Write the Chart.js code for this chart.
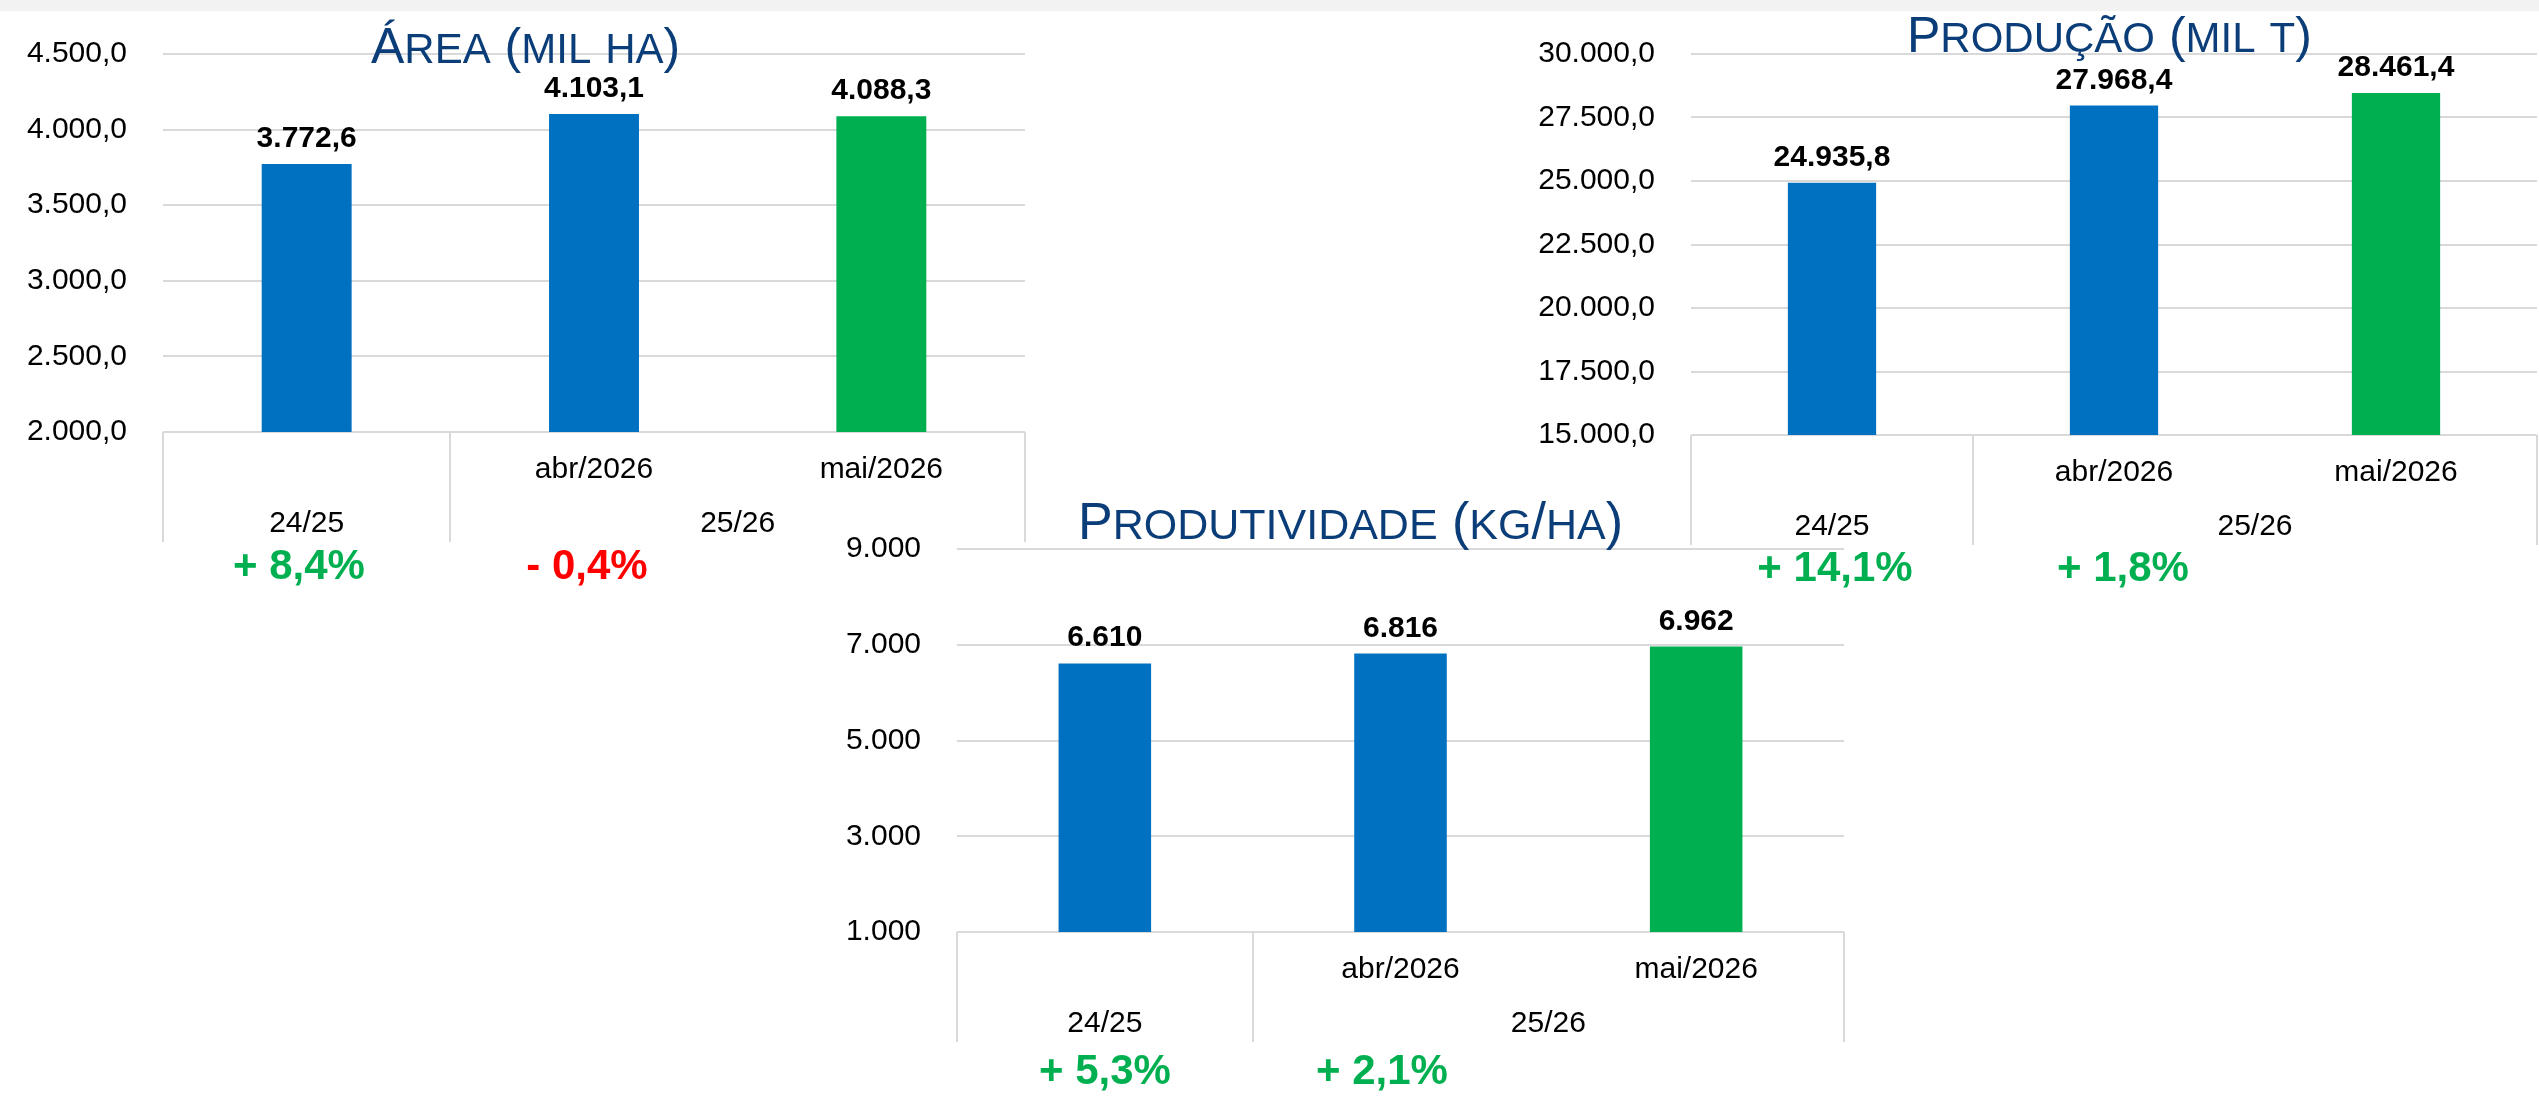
<!DOCTYPE html>
<html>
<head>
<meta charset="utf-8">
<script src="https://cdn.jsdelivr.net/npm/chart.js@4.4.1/dist/chart.umd.min.js"></script>
<style>
  html, body { margin: 0; padding: 0; background: #fff; }
  body { width: 2539px; height: 1096px; position: relative; overflow: hidden; }
  #band { position: absolute; left: 0; top: 0; width: 2539px; height: 11px; background: #f2f2f2; }
  canvas { position: absolute; }
</style>
</head>
<body>
<div id="band"></div>
<canvas id="area" width="1040" height="600" style="left:0px;top:0px"></canvas>
<canvas id="prod" width="1059" height="600" style="left:1480px;top:0px"></canvas>
<canvas id="yield" width="1080" height="626" style="left:780px;top:470px"></canvas>
<script>
const FONT = "'Liberation Sans', Arial, sans-serif";

// shared categories
const periods = ['', 'abr/2026', 'mai/2026'];
const seasons = ['24/25', '25/26'];
const seasonSpans = [1, 2];
const barColors = ['#0070C0', '#0070C0', '#00B050'];

// Área (mil ha)
const areaValues = [3772.6, 4103.1, 4088.3];
const areaAxis = [2000, 4500, 500];
const areaChanges = ['+ 8,4%', '- 0,4%'];
const areaChangeColors = ['#00B050', '#FF0000'];

// Produção (mil t)
const prodValues = [24935.8, 27968.4, 28461.4];
const prodAxis = [15000, 30000, 2500];
const prodChanges = ['+ 14,1%', '+ 1,8%'];
const prodChangeColors = ['#00B050', '#00B050'];

// Produtividade (kg/ha)
const yieldValues = [6610, 6816, 6962];
const yieldAxis = [1000, 9000, 2000];
const yieldChanges = ['+ 5,3%', '+ 2,1%'];
const yieldChangeColors = ['#00B050', '#00B050'];

// pt-BR number format: 24.935,8
function br(v, dec) {
  const [i, d] = Math.abs(v).toFixed(dec).split('.');
  return (v < 0 ? '-' : '') + i.replace(/\B(?=(\d{3})+(?!\d))/g, '.') + (d ? ',' + d : '');
}

// title with real small caps: lowercase letters drawn as smaller capitals
const capsTitle = {
  id: 'capsTitle',
  afterDraw(chart, args, o) {
    const ctx = chart.ctx;
    ctx.save();
    ctx.fillStyle = '#0B3D78';
    ctx.textBaseline = 'alphabetic';
    let x = o.x;
    for (const ch of o.text) {
      const lower = ch !== ch.toUpperCase();
      ctx.font = `${lower ? o.small : o.big}px ${FONT}`;
      const c = ch.toUpperCase();
      ctx.fillText(c, x, o.y);
      x += ctx.measureText(c).width;
    }
    ctx.restore();
  }
};

const barLabels = {
  id: 'barLabels',
  afterDatasetsDraw(chart, args, o) {
    const ctx = chart.ctx;
    const ds = chart.data.datasets[0];
    ctx.save();
    ctx.font = `bold 30px ${FONT}`;
    ctx.fillStyle = '#000';
    ctx.textAlign = 'center';
    chart.getDatasetMeta(0).data.forEach((bar, i) => {
      ctx.fillText(br(ds.data[i], o.decimals), bar.x, bar.y - 17);
    });
    ctx.restore();
  }
};

// two-level category axis (period / season) + change notes below it
const groupAxis = {
  id: 'groupAxis',
  afterDraw(chart, args, o) {
    const { ctx, chartArea } = chart;
    const x = chart.scales.x;
    const base = chartArea.bottom;
    const step = (x.right - x.left) / chart.data.labels.length;
    ctx.save();
    ctx.strokeStyle = '#d9d9d9';
    ctx.lineWidth = 2;
    ctx.fillStyle = '#000';
    ctx.textAlign = 'center';
    ctx.font = `30px ${FONT}`;
    chart.data.labels.forEach((l, i) => ctx.fillText(l, x.getPixelForValue(i), base + 46));

    const edges = [x.left];
    let start = 0;
    seasons.forEach((s, g) => {
      const end = start + seasonSpans[g];
      const l = x.getPixelForValue(start) - step / 2;
      const r = x.getPixelForValue(end - 1) + step / 2;
      ctx.fillText(s, (l + r) / 2, base + 100);
      edges.push(r);
      start = end;
    });
    edges.forEach(e => {
      ctx.beginPath();
      ctx.moveTo(Math.round(e), base);
      ctx.lineTo(Math.round(e), base + 110);
      ctx.stroke();
    });

    ctx.font = `bold 42px ${FONT}`;
    o.changes.forEach((t, i) => {
      ctx.fillStyle = o.colors[i];
      ctx.fillText(t, o.changeX[i], o.changeY);
    });
    ctx.restore();
  }
};

function makeChart(id, values, axis, decimals, box, title, notes) {
  return new Chart(document.getElementById(id), {
    type: 'bar',
    data: {
      labels: periods,
      datasets: [{ data: values, backgroundColor: barColors, categoryPercentage: 1, barPercentage: 0.313 }],
    },
    plugins: [capsTitle, barLabels, groupAxis],
    options: {
      responsive: false, animation: false, devicePixelRatio: 1,
      layout: { padding: { top: box.top, right: box.right, bottom: 0, left: 0 } },
      plugins: {
        legend: { display: false },
        tooltip: { enabled: false },
        capsTitle: title,
        barLabels: { decimals },
        groupAxis: notes,
      },
      scales: {
        x: {
          grid: { display: false }, border: { display: false }, ticks: { display: false },
          afterFit: s => { s.height = box.xh; },
        },
        y: {
          min: axis[0], max: axis[1],
          border: { display: false },
          grid: { color: '#d9d9d9', lineWidth: 2, drawTicks: false },
          ticks: { stepSize: axis[2], padding: 36, color: '#000', font: { family: FONT, size: 30 }, callback: v => br(v, decimals) },
          afterFit: s => { s.width = box.yw; },
        },
      },
    },
  });
}

makeChart('area', areaValues, areaAxis, 1,
  { top: 49, right: 15, xh: 168, yw: 163 },
  { text: 'Área (mil ha)', x: 371, y: 63, big: 50, small: 42 },
  { changes: areaChanges, colors: areaChangeColors, changeX: [299, 587], changeY: 579 });

makeChart('prod', prodValues, prodAxis, 1,
  { top: 53, right: 2, xh: 165, yw: 211 },
  { text: 'Produção (mil t)', x: 427, y: 52, big: 50, small: 42 },
  { changes: prodChanges, colors: prodChangeColors, changeX: [355, 643], changeY: 581 });

makeChart('yield', yieldValues, yieldAxis, 0,
  { top: 79, right: 16, xh: 164, yw: 177 },
  { text: 'Produtividade (kg/ha)', x: 298, y: 69, big: 52, small: 43 },
  { changes: yieldChanges, colors: yieldChangeColors, changeX: [325, 602], changeY: 614 });
</script>
</body>
</html>
